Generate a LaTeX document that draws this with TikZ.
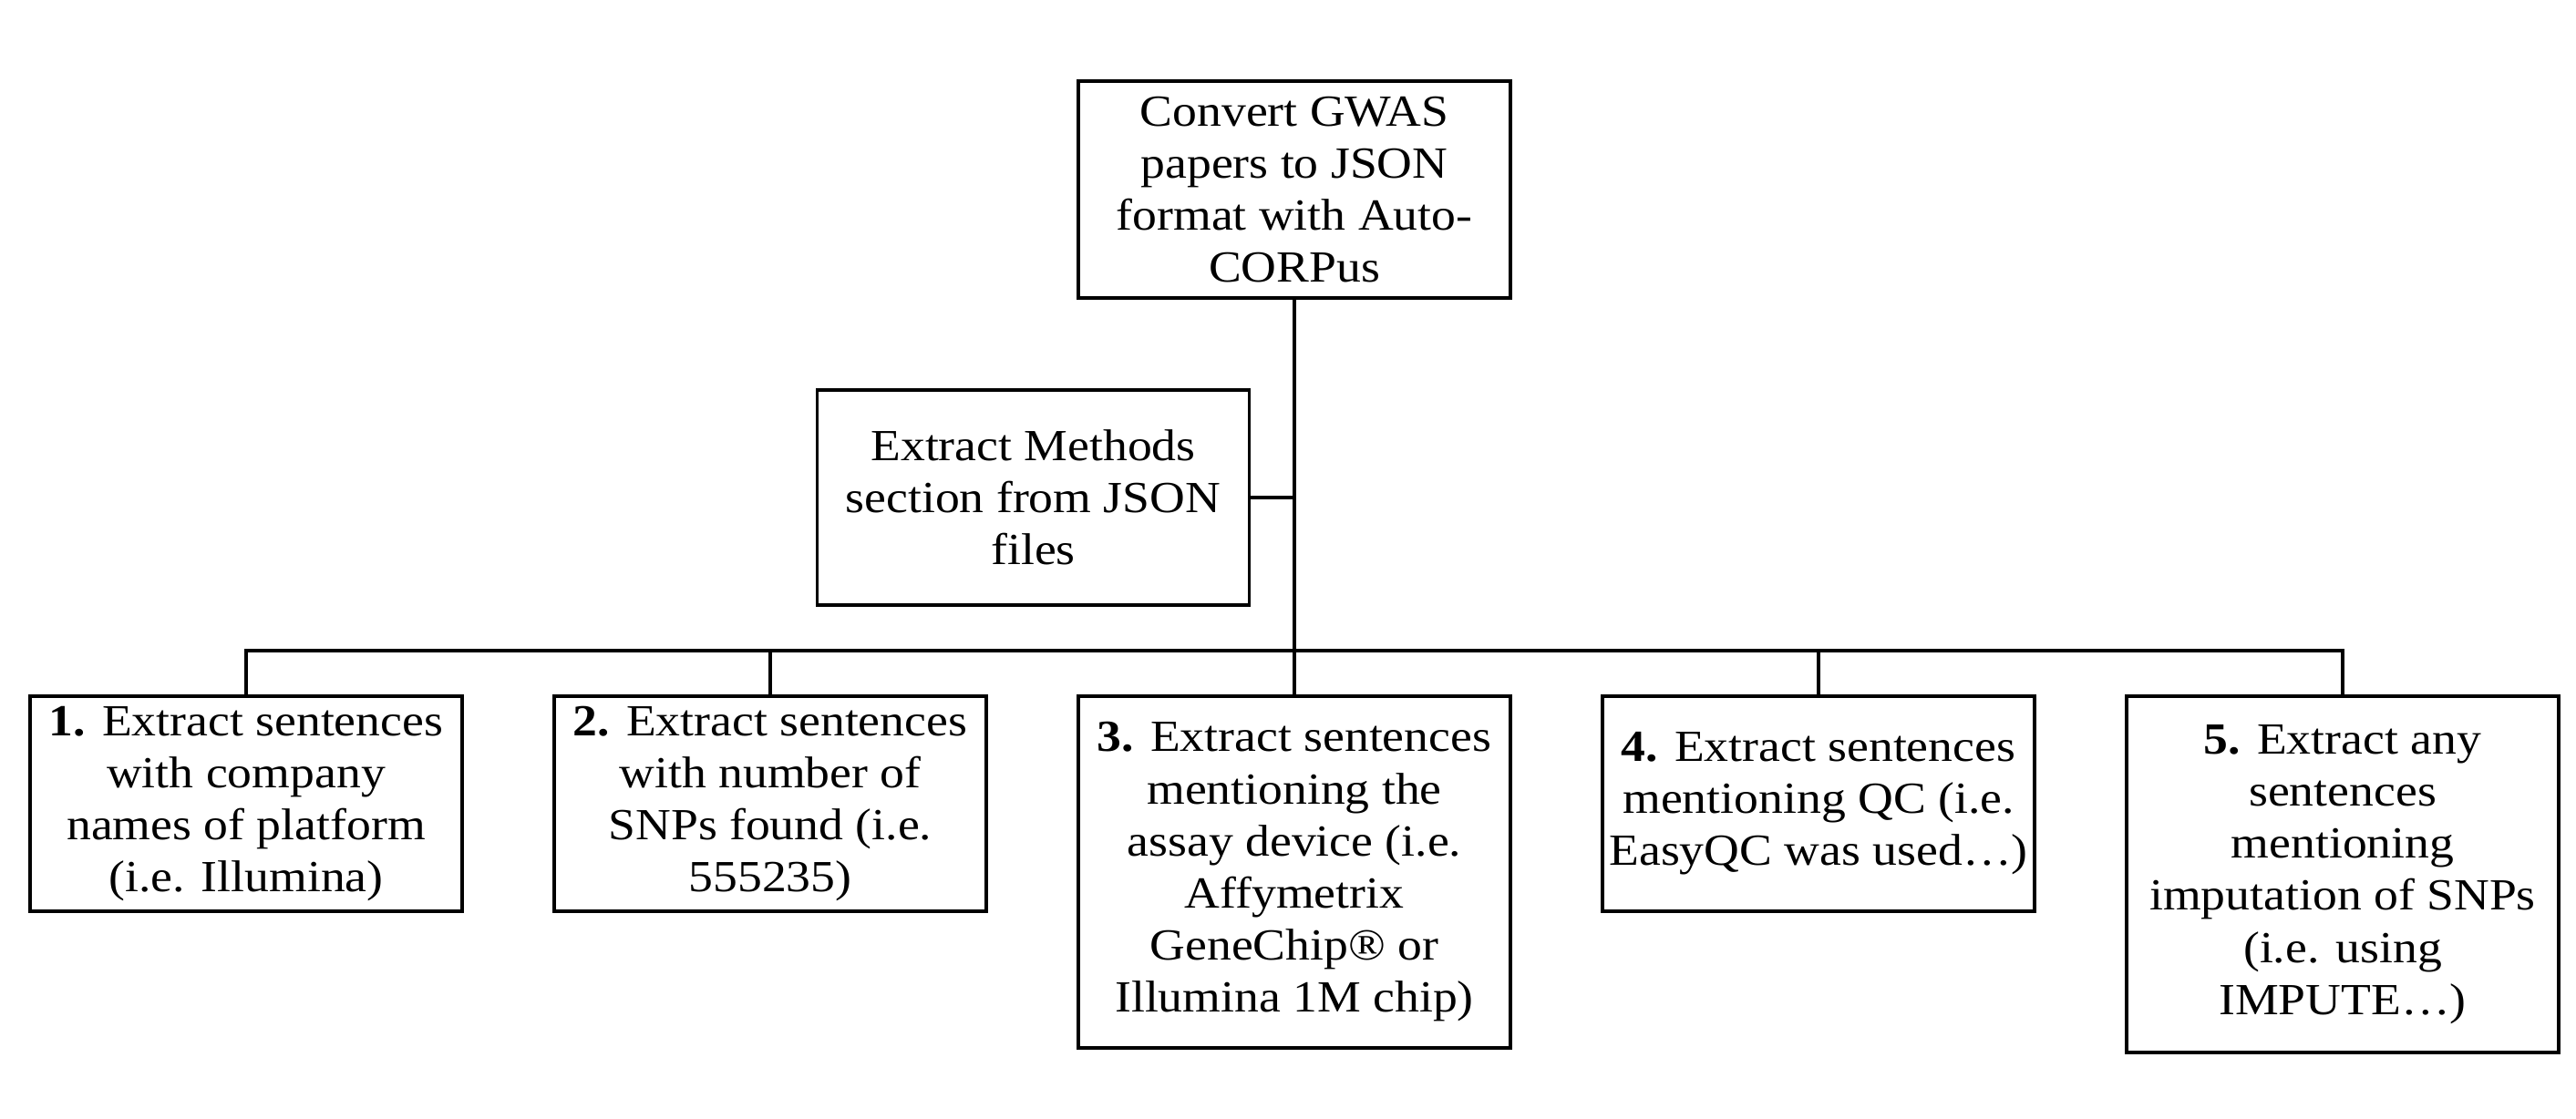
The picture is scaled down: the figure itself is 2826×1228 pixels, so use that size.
\documentclass[tikz,border=0pt]{standalone}
\usepackage{fontspec}
\setmainfont{Liberation Serif}[FakeStretch=1.1]
\usepackage{tikz}
\newcommand{\boxwd}{118.5pt}

\begin{document}
\begin{tikzpicture}[x=0.25pt,y=-0.25pt,
  stagebox/.style={draw, line width=0.8pt, align=center, inner sep=0pt,
    minimum width=\boxwd, minimum height=59pt,
    font=\fontsize{12.2}{14.3}\selectfont}]
  \useasboundingbox (0,0) rectangle (2826,1228);
  % top of the pipeline
  \node (convert) at (1420,208) [stagebox, minimum height=59.5pt] {Convert GWAS\\papers to JSON\\format with Auto-\\CORPus};
  \node (methods) at (1133.5,546) [stagebox] {Extract Methods\\section from JSON\\files};
  \coordinate (bus) at (1420,714);

  % the five extraction steps
  \node (s1) at (270,882)  [stagebox] {\textbf{1.} Extract sentences\\with company\\names of platform\\(i.e. Illumina)};
  \node (s2) at (845,882)  [stagebox] {\textbf{2.} Extract sentences\\with number of\\SNPs found (i.e.\\555235)};
  \node (s3) at (1420,957) [stagebox, minimum height=96.5pt] {\textbf{3.} Extract sentences\\mentioning the\\assay device (i.e.\\Affymetrix\\GeneChip® or\\Illumina 1M chip)};
  \node (s4) at (1995,882) [stagebox] {\textbf{4.} Extract sentences\\mentioning QC (i.e.\\EasyQC was used…)};
  \node (s5) at (2570,959.5) [stagebox, minimum height=97.75pt] {\textbf{5.} Extract any\\sentences\\mentioning\\imputation of SNPs\\(i.e. using\\IMPUTE…)};

  \draw[line width=0.8pt] (convert.south) to (bus) to (s3.north)
    (methods.east) to (methods.east -| convert.south)
    (s1.north) |- (bus) (s2.north) |- (bus)
    (s4.north) |- (bus) (s5.north) |- (bus);
\end{tikzpicture}
\end{document}
